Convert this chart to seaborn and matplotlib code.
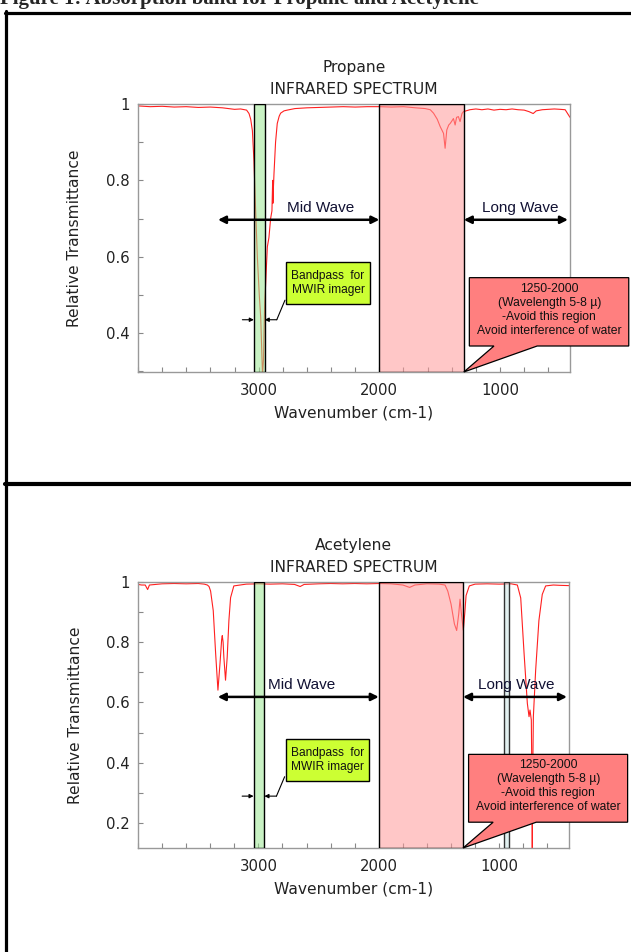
import matplotlib
matplotlib.use("Agg")
import matplotlib.pyplot as plt
import seaborn as sns
from matplotlib.patches import Rectangle, Polygon
from matplotlib.lines import Line2D
from matplotlib.ticker import MultipleLocator, FuncFormatter
from matplotlib.colors import to_rgba

# spectra (wavenumber cm-1, relative transmittance)
propane_wn = [4000, 3900, 3800, 3700, 3600, 3500, 3400, 3300, 3200, 3150, 3100, 3080,
              3066, 3052, 3039, 3025, 3011, 2995, 2983, 2975, 2968, 2960, 2956, 2950,
              2942, 2935, 2928, 2915, 2901, 2890, 2884, 2882, 2878, 2873, 2860, 2846,
              2830, 2818, 2790, 2763, 2700, 2600, 2500, 2400, 2300, 2200, 2100, 2000,
              1900, 1800, 1700, 1620, 1578, 1551, 1520, 1496, 1468, 1455, 1441, 1425,
              1413, 1400, 1386, 1372, 1360, 1345, 1331, 1315, 1303, 1250, 1200, 1150,
              1100, 1050, 1000, 950, 900, 850, 800, 760, 725, 700, 650, 600, 550, 500,
              460, 440, 420]
propane_t = [0.995, 0.993, 0.994, 0.992, 0.993, 0.991, 0.992, 0.990, 0.986, 0.987, 0.984, 0.975,
             0.960, 0.930, 0.850, 0.720, 0.600, 0.500, 0.440, 0.360, 0.290, 0.330, 0.400, 0.480,
             0.530, 0.580, 0.626, 0.650, 0.700, 0.720, 0.800, 0.740, 0.780, 0.818, 0.900, 0.949,
             0.968, 0.976, 0.982, 0.984, 0.988, 0.990, 0.991, 0.992, 0.993, 0.992, 0.993, 0.993,
             0.992, 0.993, 0.990, 0.988, 0.985, 0.976, 0.960, 0.941, 0.923, 0.884, 0.932, 0.945,
             0.949, 0.955, 0.962, 0.945, 0.965, 0.967, 0.954, 0.975, 0.980, 0.985, 0.987, 0.985,
             0.987, 0.984, 0.986, 0.985, 0.987, 0.985, 0.984, 0.980, 0.975, 0.982, 0.985, 0.986,
             0.987, 0.986, 0.985, 0.975, 0.965]

acetylene_wn = [4000, 3970, 3940, 3920, 3905, 3800, 3700, 3600, 3500, 3450, 3424, 3410,
                3397, 3375, 3355, 3336, 3319, 3305, 3300, 3293, 3287, 3273, 3259, 3245,
                3231, 3204, 3100, 3000, 2900, 2800, 2700, 2653, 2620, 2500, 2400, 2300,
                2200, 2100, 2000, 1900, 1800, 1744, 1700, 1600, 1500, 1450, 1427, 1400,
                1372, 1353, 1336, 1325, 1315, 1298, 1285, 1275, 1248, 1200, 1100, 1000,
                900, 849, 821, 793, 766, 752, 744, 733, 727, 725, 723, 716, 697, 670,
                642, 614, 550, 500, 420]
acetylene_t = [0.992, 0.990, 0.990, 0.975, 0.990, 0.994, 0.995, 0.994, 0.995, 0.993, 0.990, 0.985,
               0.970, 0.905, 0.762, 0.641, 0.729, 0.810, 0.822, 0.800, 0.751, 0.674, 0.751, 0.872,
               0.948, 0.987, 0.993, 0.994, 0.993, 0.994, 0.992, 0.985, 0.992, 0.994, 0.995, 0.994,
               0.995, 0.994, 0.995, 0.994, 0.990, 0.982, 0.990, 0.994, 0.993, 0.990, 0.970, 0.927,
               0.861, 0.839, 0.894, 0.943, 0.900, 0.840, 0.900, 0.955, 0.987, 0.993, 0.994, 0.993,
               0.994, 0.990, 0.947, 0.762, 0.597, 0.553, 0.575, 0.542, 0.300, 0.100, 0.300, 0.553,
               0.707, 0.872, 0.959, 0.987, 0.990, 0.989, 0.988]

x_range = (4000, 420)
x_major = [3000, 2000, 1000]
green_band = (3040, 2950)
pink_band = (2000, 1300)
narrow_band = (959, 918)
mid_wave = (3337, 2000)
long_wave = (1300, 437)
callout_lines = "1250-2000\n(Wavelength 5-8 \u00b5)\n-Avoid this region\nAvoid interference of water"
bandpass_text = "Bandpass  for\nMWIR imager"

sns.set_theme(style="white")
plt.rcParams["font.family"] = ["DejaVu Sans"]

fig = plt.figure(figsize=(6.31, 9.52), dpi=100)
W, H = 631, 952


def panel(rect_px, name, wn, t, ylim, yticks, mid_x, long_x, extra=None):
    l, top, r, b = rect_px
    ax = fig.add_axes([l / W, (H - b) / H, (r - l) / W, (b - top) / H])
    sns.lineplot(x=wn, y=t, ax=ax, color="#ff2020", lw=0.8,
                 estimator=None, sort=False, zorder=2)
    ax.set_xlim(*x_range)
    ax.set_ylim(*ylim)
    ax.set_xticks(x_major)
    ax.xaxis.set_minor_locator(MultipleLocator(200))
    ax.set_yticks(yticks)
    ax.yaxis.set_minor_locator(MultipleLocator(0.1))
    ax.yaxis.set_major_formatter(FuncFormatter(lambda v, p: f"{v:g}"))
    ax.tick_params(which="both", direction="in", length=3.5, width=0.8,
                   color="#888888", labelsize=10.7, labelcolor="#222222")
    ax.tick_params(axis="x", which="both", pad=8, bottom=True)
    ax.tick_params(axis="y", which="both", pad=6, left=True)
    for s in ax.spines.values():
        s.set_color("#999999")
        s.set_linewidth(1)
    ax.set_xlabel("")
    ax.set_ylabel("")

    bx = ax.get_xaxis_transform()
    ax.add_patch(Rectangle((green_band[1], 0), green_band[0] - green_band[1], 1, transform=bx,
                           facecolor=to_rgba("#9ee895", 0.55), edgecolor="black", lw=1, zorder=3))
    ax.add_patch(Rectangle((pink_band[1], 0), pink_band[0] - pink_band[1], 1, transform=bx,
                           facecolor=to_rgba("#ff9a9a", 0.55), edgecolor="black", lw=1, zorder=3))
    if extra is not None:
        ax.add_patch(Rectangle((extra[1], 0), extra[0] - extra[1], 1, transform=bx,
                               facecolor=to_rgba("#cfe6e6", 0.6), edgecolor="#333333", lw=1, zorder=3))

    arrow = dict(arrowstyle="<|-|>", color="black", lw=1.8, shrinkA=0, shrinkB=0,
                 mutation_scale=11)
    ax.annotate("", xy=(mid_wave[1], 0.568), xytext=(mid_wave[0], 0.568),
                xycoords=bx, textcoords=bx, arrowprops=arrow, annotation_clip=False, zorder=5)
    ax.annotate("", xy=(long_wave[1], 0.568), xytext=(long_wave[0], 0.568),
                xycoords=bx, textcoords=bx, arrowprops=arrow, annotation_clip=False, zorder=5)
    ax.text(mid_x, 0.612, "Mid Wave", transform=bx, ha="center", va="center",
            family="Liberation Sans", size=11, color="#111133", zorder=6)
    ax.text(long_x, 0.612, "Long Wave", transform=bx, ha="center", va="center",
            family="Liberation Sans", size=11, color="#111133", zorder=6)

    # bandpass label box and width arrows
    ax.add_patch(Rectangle((0.3426, 0.2537), 0.1944, 0.156, transform=ax.transAxes,
                           facecolor="#ccff33", edgecolor="black", lw=1, zorder=6, clip_on=False))
    ax.text(0.4398, 0.332, bandpass_text, transform=ax.transAxes, ha="center", va="center",
            family="Liberation Sans", size=8.6, color="#111111", zorder=7, linespacing=1.2)
    small = dict(arrowstyle="-|>", color="black", lw=0.8, shrinkA=0, shrinkB=0, mutation_scale=6)
    ax.annotate("", xy=(green_band[0], 0.195), xytext=(green_band[0] + 95, 0.195),
                xycoords=bx, textcoords=bx, arrowprops=small, zorder=6)
    ax.annotate("", xy=(green_band[1], 0.195), xytext=(green_band[1] - 100, 0.195),
                xycoords=bx, textcoords=bx, arrowprops=small, zorder=6)
    ax.plot([green_band[1] - 100, 2782], [0.195, 0.268], transform=bx, color="black",
            lw=0.8, zorder=6, clip_on=False)

    # callout for the water band
    x0, x1 = x_range
    tip = (x0 - pink_band[1]) / (x0 - x1)
    pts = [(0.767, 0.352), (1.136, 0.352), (1.136, 0.097), (0.924, 0.097),
           (tip, 0.0), (0.824, 0.097), (0.767, 0.097)]
    ax.add_patch(Polygon(pts, closed=True, transform=ax.transAxes, facecolor="#ff7f7f",
                         edgecolor="black", lw=0.9, zorder=6, clip_on=False))
    ax.text(0.952, 0.232, callout_lines, transform=ax.transAxes, ha="center", va="center",
            family="Liberation Sans", size=8.7, color="#111111", zorder=7, linespacing=1.22)

    ax.text(0.5, 1.138, name, transform=ax.transAxes, ha="center", va="center",
            size=11.2, color="#222222")
    ax.text(0.5, 1.055, "INFRARED SPECTRUM", transform=ax.transAxes, ha="center", va="center",
            size=11.2, color="#222222")
    ax.text(-0.146, 0.5, "Relative Transmittance", transform=ax.transAxes, rotation=90,
            ha="center", va="center", size=11.2, color="#222222")
    ax.text(0.5, -0.153, "Wavenumber (cm-1)", transform=ax.transAxes, ha="center",
            va="center", size=11.2, color="#222222")
    return ax


panel((138, 104, 570, 372), "Propane", propane_wn, propane_t, (0.298, 1.0),
      [0.4, 0.6, 0.8, 1.0], 2484, 835)
panel((138, 582, 569, 848), "Acetylene", acetylene_wn, acetylene_t, (0.117, 1.0),
      [0.2, 0.4, 0.6, 0.8, 1.0], 2640, 860, extra=narrow_band)

# document frame around the figure
fig.add_artist(Line2D([6 / W, 6 / W], [0, (H - 11) / H], transform=fig.transFigure,
                      color="black", lw=2.3))
fig.add_artist(Line2D([5 / W, 1], [(H - 12.5) / H] * 2, transform=fig.transFigure,
                      color="black", lw=2.3))
fig.add_artist(Line2D([5 / W, 1], [(H - 484) / H] * 2, transform=fig.transFigure,
                      color="black", lw=3.0))
# caption of the page, cut off at the top edge as in the source
fig.text(0.0, (H - 4) / H, "Figure 1: Absorption band for Propane and Acetylene",
         family="Liberation Serif", weight="bold", size=15, va="baseline", ha="left")

fig.savefig("out.png", dpi=100)
